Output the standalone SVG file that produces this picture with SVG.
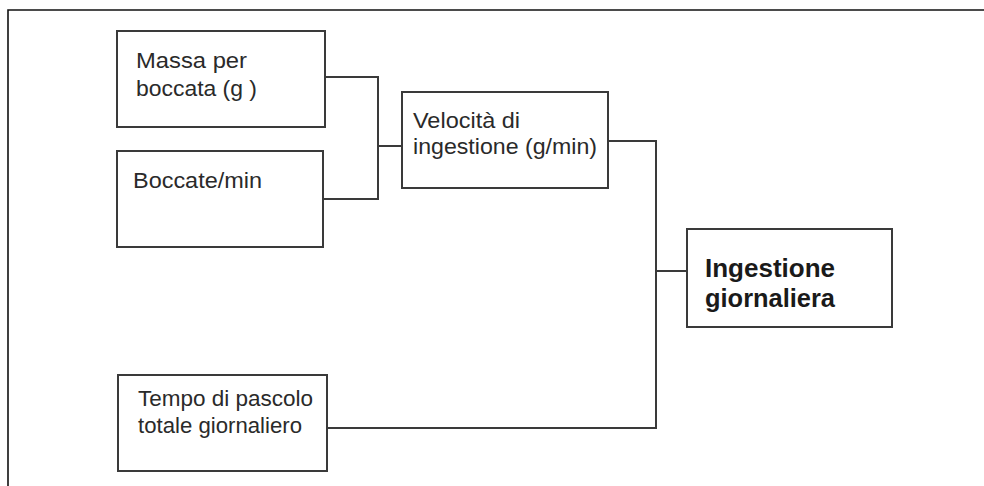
<svg xmlns="http://www.w3.org/2000/svg" width="984" height="486" viewBox="0 0 984 486">
  <style>
    .box { fill: #ffffff; stroke: #3a3a3a; stroke-width: 2; }
    .wire { fill: none; stroke: #3a3a3a; stroke-width: 2; }
    .frame { fill: none; stroke: #111111; stroke-width: 1.6; }
    .lbl { font-family: "Liberation Sans", Arial, sans-serif; font-size: 22px; fill: #2a2a2a; }
    .big { font-family: "Liberation Sans", Arial, sans-serif; font-size: 26px; font-weight: bold; fill: #1a1a1a; }
  </style>
  <rect x="0" y="0" width="984" height="486" fill="#ffffff"/>
  <path class="frame" d="M8,486 V10 H984"/>

  <g id="connectors">
    <path class="wire" d="M325,77 H378 V199 H323"/>
    <path class="wire" d="M378,146 H402"/>
    <path class="wire" d="M608,141 H656 V428 H327"/>
    <path class="wire" d="M656,271 H687"/>
  </g>

  <g id="massa">
    <rect class="box" x="117" y="31" width="208" height="96"/>
    <text class="lbl" x="136" y="68" textLength="111" lengthAdjust="spacingAndGlyphs">Massa per</text>
    <text class="lbl" x="136" y="96" textLength="121" lengthAdjust="spacingAndGlyphs">boccata (g )</text>
  </g>

  <g id="boccate">
    <rect class="box" x="117" y="151" width="206" height="96"/>
    <text class="lbl" x="133" y="188" textLength="129" lengthAdjust="spacingAndGlyphs">Boccate/min</text>
  </g>

  <g id="velocita">
    <rect class="box" x="402" y="92" width="206" height="96"/>
    <text class="lbl" x="413" y="128" textLength="107" lengthAdjust="spacingAndGlyphs">Velocità di</text>
    <text class="lbl" x="413" y="154" textLength="184" lengthAdjust="spacingAndGlyphs">ingestione (g/min)</text>
  </g>

  <g id="ingestione">
    <rect class="box" x="687" y="229" width="205" height="98"/>
    <text class="big" x="705" y="277" textLength="130" lengthAdjust="spacingAndGlyphs">Ingestione</text>
    <text class="big" x="705" y="307" textLength="130" lengthAdjust="spacingAndGlyphs">giornaliera</text>
  </g>

  <g id="tempo">
    <rect class="box" x="118" y="375" width="209" height="96"/>
    <text class="lbl" x="138" y="406" textLength="175" lengthAdjust="spacingAndGlyphs">Tempo di pascolo</text>
    <text class="lbl" x="138" y="433" textLength="164" lengthAdjust="spacingAndGlyphs">totale giornaliero</text>
  </g>
</svg>
